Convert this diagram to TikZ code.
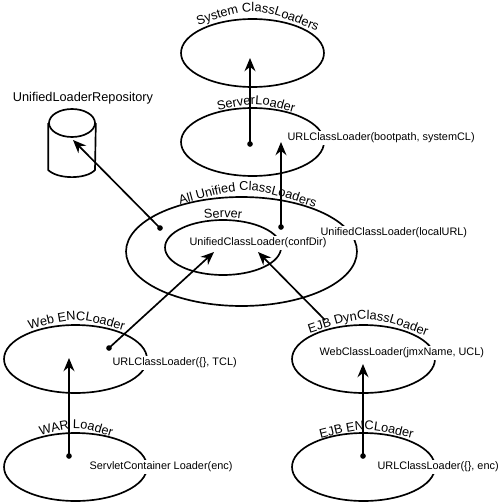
\documentclass[tikz,border=0pt]{standalone}
\usepackage{fontspec}
\setmainfont{Liberation Sans}
\usepackage{tikz}
\usetikzlibrary{arrows.meta,shapes.geometric,decorations.text}
\newcommand{\biglabel}{\fontsize{7.25}{8}\selectfont}
\newcommand{\smalllabel}{\fontsize{6.2}{7}\selectfont}

\begin{document}
\begin{tikzpicture}[x=0.02cm,y=-0.02cm,
    heavy/.style={line width=0.95pt},
    loader/.style={draw, ellipse, heavy, minimum width=2.86cm, minimum height=1.36cm, inner sep=0pt},
    dot/.style={circle, fill=black, minimum size=3.2pt, inner sep=0pt},
    calls/.style={-{Stealth[length=7.5pt,width=6.2pt]}, heavy},
    caption/.style={fill=white, inner sep=1pt, anchor=west, font=\smalllabel},
    curved/.style={decorate, decoration={text along path, text={|\biglabel|#1}, text align=center}}]
  \useasboundingbox (0,0) rectangle (500,504);

  % Loaders
  \node[loader] (system) at (252.5,53) {};
  \node[loader] (serverloader) at (252.5,142) {};
  \node[loader, minimum width=4.62cm, minimum height=2.18cm] (unified) at (241.5,251.5) {};
  \node[loader, minimum width=2.32cm, minimum height=1.1cm] (server) at (223,247.5) {};
  \node[loader] (webenc) at (75.5,359) {};
  \node[loader] (war) at (75.5,467) {};
  \node[loader] (ejbdyn) at (363.5,359) {};
  \node[loader] (ejbenc) at (363.5,467) {};

  % Repository
  \node[draw, ellipse, heavy, minimum width=0.92cm, minimum height=0.56cm, inner sep=0pt] (repo) at (72,123) {};
  \draw[heavy] (repo.west) -- ++(0,47) .. controls (58,179.5) and (86,179.5) .. (95,170) -- (repo.east);
  \node[font=\biglabel] (repotitle) at (83,98.5) {UnifiedLoaderRepository};

  % Names on the rims
  \path[curved=System ClassLoaders] (196,26) .. controls (255,6) .. (319,32);
  \path[curved=ServerLoader] (217,111) .. controls (256,102) .. (295,113);
  \path[curved=All Unified ClassLoaders] (179,205) .. controls (248,185.5) .. (316,208);
  \path[curved=Server] (204,219) .. controls (223,217) .. (242,219);
  \path[curved=Web ENCLoader] (28,330) .. controls (77,317) .. (125,331);
  \path[curved=WAR Loader] (39,436) .. controls (76,425.5) .. (113,437);
  \path[curved=EJB DynClassLoader] (307,334) .. controls (368,314) .. (429,337);
  \path[curved=EJB ENCLoader] (319,439) .. controls (366,427) .. (414,439);

  % Constructors
  \node[caption] (bootpath) at (285.5,138) {URLClassLoader(bootpath, systemCL)};
  \node[caption] (localurl) at (318.5,233) {UnifiedClassLoader(localURL)};
  \node[caption] (confdir) at (187.5,243) {UnifiedClassLoader(confDir)};
  \node[caption] (tcl) at (110.5,363) {URLClassLoader(\{\}, TCL)};
  \node[caption] (servlet) at (87.5,467) {ServletContainer Loader(enc)};
  \node[caption] (jmxname) at (317.5,353) {WebClassLoader(jmxName, UCL)};
  \node[caption] (enc) at (375.5,467) {URLClassLoader(\{\}, enc)};

  % Start points
  \node[dot] (dotserver) at (250,144) {};
  \node[dot] (dotunified) at (281,227) {};
  \node[dot] (dotrepo) at (160,228) {};
  \node[dot] (dotweb) at (109,348) {};
  \node[dot] (dotwar) at (69,456) {};
  \node[dot] (dotejb) at (363,456) {};
  \coordinate (startdyn) at (325,320);

  % Arrow ends
  \coordinate (endsystem) at (250,58);
  \coordinate (endserver) at (281,142);
  \coordinate (endrepo) at (73,140);
  \coordinate (endconfa) at (214,252);
  \coordinate (endconfb) at (258,252);
  \coordinate (endweb) at (69,358);
  \coordinate (enddyn) at (363,364);

  \draw[calls] (dotserver.center) -- (endsystem);
  \draw[calls] (dotunified.center) -- (endserver);
  \draw[calls] (dotrepo.center) -- (endrepo);
  \draw[calls] (dotweb.center) -- (endconfa);
  \draw[calls] (startdyn) -- (endconfb);
  \draw[calls] (dotwar.center) -- (endweb);
  \draw[calls] (dotejb.center) -- (enddyn);
\end{tikzpicture}
\end{document}
